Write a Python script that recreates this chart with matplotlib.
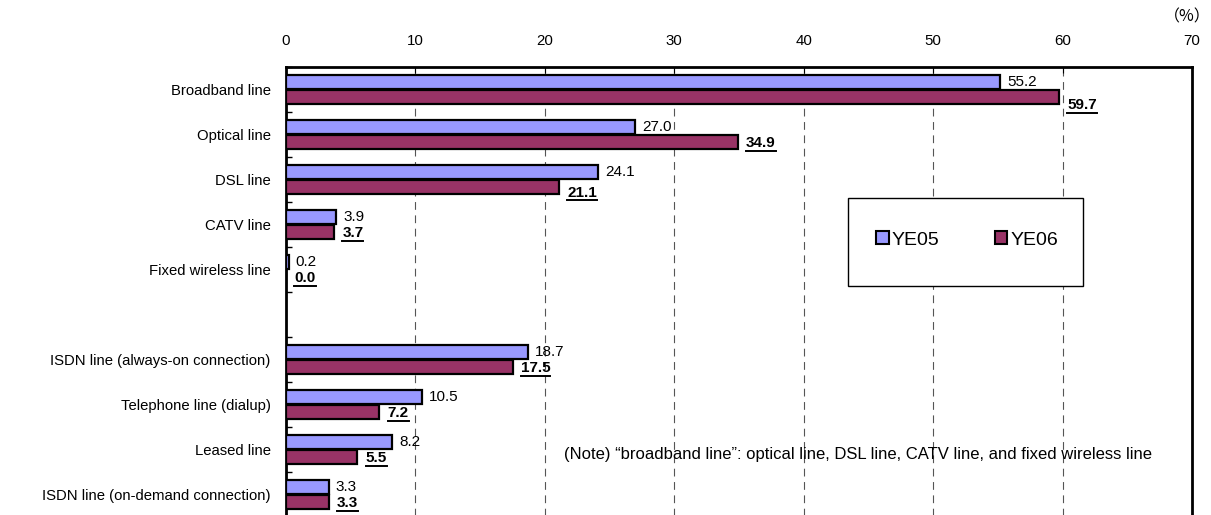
import numpy as np
import matplotlib
matplotlib.use('Agg')
from matplotlib import pyplot as plt
from matplotlib.lines import Line2D
from matplotlib.patches import Rectangle, Patch

plt.rcParams['font.family'] = ['Liberation Sans', 'DejaVu Sans']

# Data (blank slot separates the broadband group)
categories = ['Broadband line', 'Optical line', 'DSL line', 'CATV line',
              'Fixed wireless line', '', 'ISDN line (always-on connection)',
              'Telephone line (dialup)', 'Leased line',
              'ISDN line (on-demand connection)']
ye05 = [55.2, 27.0, 24.1, 3.9, 0.2, np.nan, 18.7, 10.5, 8.2, 3.3]
ye06 = [59.7, 34.9, 21.1, 3.7, 0.0, np.nan, 17.5, 7.2, 5.5, 3.3]
series_names = ['YE05', 'YE06']
x_ticks = [0, 10, 20, 30, 40, 50, 60, 70]

col05 = '#9999FF'
col06 = '#993366'

# YE06 labels were nudged down by hand in the original for these rows (points)
label_drop = {0: -6, 2: -4}

W, H = 1211, 515
fig = plt.figure(figsize=(W / 100, H / 100), dpi=100)
# axes box in pixels: left 286, right 1192, top 67, bottom 517 (runs past figure edge)
ax = fig.add_axes([286 / W, (H - 517) / H, 906 / W, 450 / H])

y = np.arange(len(categories))
bh = 0.32
off = 0.167
ax.barh(y - off, ye05, height=bh, color=col05, edgecolor='black', linewidth=1.6, zorder=3)
ax.barh(y + off, ye06, height=bh, color=col06, edgecolor='black', linewidth=1.6, zorder=3)

ax.set_ylim(len(categories) - 0.5, -0.5)
ax.set_xlim(0, 70)

# axis on top
ax.xaxis.tick_top()
ax.set_xticks(x_ticks)
ax.tick_params(axis='x', direction='in', length=4, width=0.8, pad=14, labelsize=10.8)
ax.set_yticks(y)
ax.set_yticklabels(categories, fontsize=10.7)
ax.tick_params(axis='y', length=0, pad=11)
ax.set_yticks(np.arange(-0.5, len(categories), 1.0), minor=True)
ax.tick_params(axis='y', which='minor', direction='in', length=4, width=1)

ax.set_axisbelow(True)
ax.grid(axis='x', color='#555555', linestyle=(0, (7, 5)), linewidth=0.8, zorder=0)
for sp in ['left', 'top', 'right']:
    ax.spines[sp].set_linewidth(2)
ax.spines['bottom'].set_visible(False)

# value labels
bold_labels = []
for i in range(len(categories)):
    if np.isnan(ye05[i]):
        continue
    ax.annotate('%.1f' % ye05[i], xy=(ye05[i], y[i] - off), xytext=(5, 0),
                textcoords='offset points', va='center', ha='left', fontsize=11, zorder=4)
    t = ax.annotate('%.1f' % ye06[i], xy=(ye06[i], y[i] + off), xytext=(6, label_drop.get(i, -1)),
                    textcoords='offset points', va='center', ha='left', fontsize=11,
                    fontweight='bold', zorder=4)
    bold_labels.append(t)

# legend with its own frame
fig.add_artist(Rectangle((848 / W, 1 - 286 / H), 235 / W, 88 / H, transform=fig.transFigure,
                         facecolor='white', edgecolor='black', linewidth=1, zorder=5))
handles = [Patch(facecolor=col05, edgecolor='black', linewidth=1.5),
           Patch(facecolor=col06, edgecolor='black', linewidth=1.5)]
leg = fig.legend(handles, series_names, loc='center', bbox_to_anchor=(967 / W, 1 - 240 / H),
                 ncol=2, frameon=False, fontsize=14, handlelength=0.65, handleheight=0.65,
                 handletextpad=0.15, columnspacing=2.85)
leg.set_zorder(6)

fig.text(1187 / W, 1 - 17 / H, '（%）', family=['Noto Sans CJK JP', 'DejaVu Sans'],
         fontsize=11.5, ha='center', va='center')
fig.text(858 / W, 1 - 454 / H,
         '(Note) \u201cbroadband line\u201d: optical line, DSL line, CATV line, and fixed wireless line',
         fontsize=12, ha='center', va='center')

# underline the YE06 values
fig.canvas.draw()
renderer = fig.canvas.get_renderer()
for t in bold_labels:
    bb = t.get_window_extent(renderer)
    yy = bb.y0 - 0.5
    fig.add_artist(Line2D([bb.x0 / W, bb.x1 / W], [yy / H, yy / H], transform=fig.transFigure,
                          color='black', linewidth=1.4))

fig.savefig('out.png', dpi=100)
